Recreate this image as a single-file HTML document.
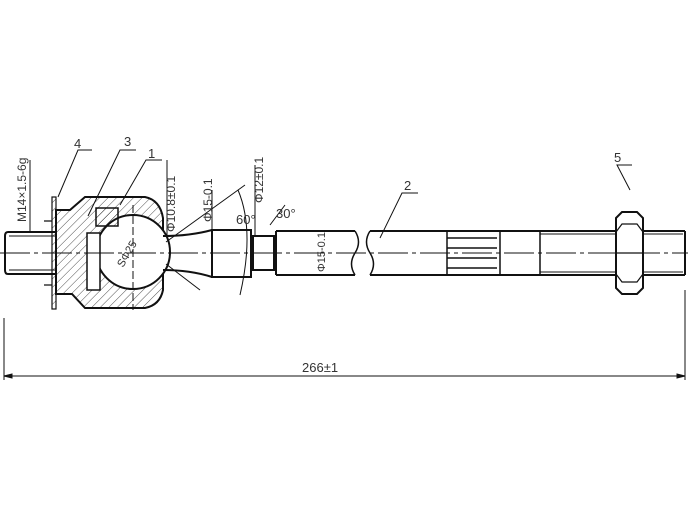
<!DOCTYPE html>
<html><head><style>
html,body{margin:0;padding:0;background:#fff;}
svg{display:block;}
text{font-family:"Liberation Sans",sans-serif;fill:#333;}
</style></head><body>
<svg width="688" height="516" viewBox="0 0 688 516" xmlns="http://www.w3.org/2000/svg">
<defs>
<pattern id="h" width="6" height="6" patternUnits="userSpaceOnUse" patternTransform="rotate(45)">
<line x1="0" y1="0" x2="0" y2="6" stroke="#222" stroke-width="0.8"/>
</pattern>
</defs>
<g fill="none" stroke="#111" stroke-width="2">
<path d="M55 232 H8 Q5 232 5 236 V270 Q5 274 8 274 H55"/>
<path d="M9 236 H55 M9 270 H55" stroke-width="1"/>
<rect x="52" y="197" width="4" height="112" fill="url(#h)" stroke-width="1.2"/>
<path d="M44 221 H52 M44 285 H52" stroke-width="1.2"/>
<path d="M56 210 H70 L85 197 H145 Q160 200 163 218 V290 Q160 305 145 308 H85 L72 294 H56 Z" fill="url(#h)"/>
<circle cx="133" cy="252" r="37" fill="#fff"/>
<path d="M87 233 V290 H100 V233 Z" fill="#fff" stroke-width="1.5"/>
<path d="M96 208 H118 V226 H96 Z" fill="url(#h)" stroke-width="1.5"/>
<path d="M163 236 Q190 236 212 230 M163 270 Q190 270 212 277"/>
<rect x="212" y="230" width="39" height="47"/>
<path d="M251 236 H276 M251 270 H276 M253 236 V270 M274 236 V270"/>
<path d="M276 231 H355 M276 275 H355 M276 231 V275"/>
<path d="M355 231 Q362 242 355 253 Q348 264 355 275" stroke-width="1.5"/>
<path d="M370 231 Q363 242 370 253 Q377 264 370 275" stroke-width="1.5"/>
<path d="M370 231 H685 M370 275 H685"/>
<path d="M540 234 H683 M540 272 H683" stroke-width="1"/>
<path d="M447 231 V275 M500 231 V275 M540 231 V275 M447 238 H497 M447 268 H497 M447 248 H497 M447 258 H497" stroke-width="1.5"/>
<path d="M685 231 V275"/>
<path d="M616 218 L622 212 H637 L643 218 V288 L637 294 H622 L616 288 Z" fill="#fff"/>
<path d="M616 232 L622 224 H637 L643 232 M616 274 L622 282 H637 L643 274 M616 253 H643" stroke-width="1.2"/>
</g>
<g stroke="#111" stroke-width="1" fill="none">
<path d="M0 253 H688" stroke-dasharray="30 4 4 4"/>
<path d="M133 205 V310" stroke-dasharray="8 3"/>
<path d="M4 318 V380 M685 290 V380 M4 376 H685"/>
<path d="M4 376 l8 -2 v4 z M685 376 l-8 -2 v4 z" fill="#111"/>
<path d="M58 197 L78 150 H92 M88 216 L120 150 H136 M120 205 L146 160 H162 M380 238 L402 193 H418 M630 190 L617 165 H632"/>
<path d="M30 160 V232 M167 160 V236 M212 190 V230 M255 165 V236"/>
<path d="M166 242 L245 185 M166 264 L200 290 M270 225 L285 205"/>
<path d="M238 190 Q255 230 240 295"/>
</g>
<g font-size="13">
<text x="74" y="148">4</text>
<text x="124" y="146">3</text>
<text x="148" y="158">1</text>
<text x="404" y="190">2</text>
<text x="614" y="162">5</text>
<text x="302" y="372">266±1</text>
<text x="236" y="224">60°</text>
<text x="276" y="218">30°</text>
<text transform="translate(26,222) rotate(-90)" font-size="12">M14×1.5-6g</text>
<text transform="translate(175,232) rotate(-90)" font-size="12">Φ10.8±0.1</text>
<text transform="translate(212,222) rotate(-90)" font-size="12">Φ15-0.1</text>
<text transform="translate(263,203) rotate(-90)" font-size="12">Φ12±0.1</text>
<text transform="translate(325,272) rotate(-90)" font-size="11">Φ15-0.1</text>
<text transform="translate(123,268) rotate(-60)" font-size="11">SΦ25</text>
</g>
</svg>
</body></html>
